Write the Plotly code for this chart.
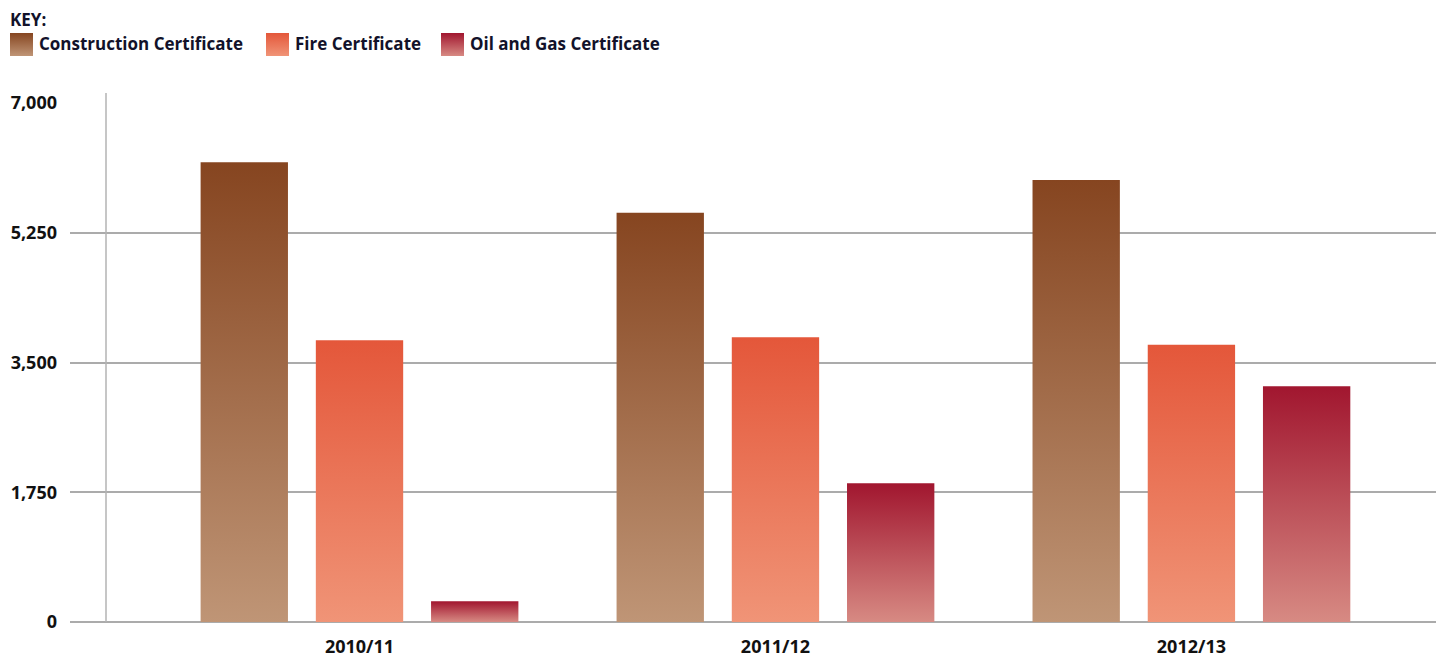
import plotly.graph_objects as go

# ---- data ----
years = ["2010/11", "2011/12", "2012/13"]
series_names = ["Construction Certificate", "Fire Certificate", "Oil and Gas Certificate"]
construction = [6200, 5520, 5960]
fire = [3800, 3840, 3740]
oil_gas = [280, 1870, 3180]
y_ticks = [0, 1750, 3500, 5250, 7000]

# ---- styling ----
W, H = 1436, 657
FONT = "Open Sans"
TEXT = "#111111"
GRID = "#ababab"
# (top colour, bottom colour) of each series' vertical gradient
gradients = [
    ("#864520", "#bf9576"),
    ("#e4573a", "#f09477"),
    ("#a1162f", "#d78a83"),
]
bar_width = 0.21
bar_offsets = [-0.277, 0.0, 0.277]

fig = go.Figure()

# bars: one filled polygon per value so each gets its own gradient
for s, values in enumerate([construction, fire, oil_gas]):
    top_c, bot_c = gradients[s]
    for i, v in enumerate(values):
        x0 = i + bar_offsets[s] - bar_width / 2
        x1 = x0 + bar_width
        fig.add_trace(go.Scatter(
            x=[x0, x1, x1, x0, x0], y=[0, 0, v, v, 0],
            mode="none",
            fill="toself",
            fillgradient=dict(type="vertical",
                              colorscale=[[0, bot_c], [1, top_c]],
                              start=0, stop=v),
            hoveron="fills", hoverinfo="text",
            text=f"{series_names[s]} {years[i]}: {v:,}",
            showlegend=False, xaxis="x", yaxis="y",
        ))

# key swatches on a pixel-space overlay axis
key_x = [10, 266, 441]
sw_w, sw_top, sw_bot = 23, 33, 56
for s, name in enumerate(series_names):
    top_c, bot_c = gradients[s]
    x0 = key_x[s]
    x1 = x0 + sw_w
    fig.add_trace(go.Scatter(
        x=[x0, x1, x1, x0, x0], y=[sw_bot, sw_bot, sw_top, sw_top, sw_bot],
        mode="none",
        fill="toself",
        fillgradient=dict(type="vertical",
                          colorscale=[[0, bot_c], [1, top_c]],
                          start=sw_bot, stop=sw_top),
        hoverinfo="skip", showlegend=False, xaxis="x2", yaxis="y2",
    ))
    fig.add_annotation(x=x1 + 4, y=(sw_top + sw_bot) / 2 - 1, xref="x2", yref="y2",
                       text=name, showarrow=False, xanchor="left", yanchor="middle",
                       font=dict(family=FONT, size=17, color="#12122a", weight=700))

fig.add_annotation(x=8, y=19, xref="x2", yref="y2", text="KEY:", showarrow=False,
                   xanchor="left", yanchor="middle",
                   font=dict(family=FONT, size=17, color="#12122a", weight=700))

# vertical axis rule
fig.add_shape(type="line", x0=106, x1=106, y0=93, y1=622, xref="x2", yref="y2",
              line=dict(color="#b3b3b3", width=1.5), layer="above")

fig.update_layout(
    width=W, height=H,
    margin=dict(l=0, r=0, t=0, b=0, autoexpand=False),
    paper_bgcolor="white", plot_bgcolor="rgba(0,0,0,0)",
    showlegend=False,
    xaxis=dict(domain=[70 / W, 1], range=[-0.696, 2.588],
               tickvals=[0, 1, 2], ticktext=years, automargin=False,
               showgrid=False, zeroline=False, showline=False, ticks="",
               ticklabelstandoff=12, fixedrange=True,
               tickfont=dict(family=FONT, size=18, color=TEXT, weight=700)),
    yaxis=dict(domain=[(H - 622) / H, (H - 103) / H], range=[0, 7000],
               tickvals=y_ticks, tickformat=",", automargin=False,
               showgrid=True, gridcolor=GRID, gridwidth=1.5,
               zeroline=True, zerolinecolor=GRID, zerolinewidth=2,
               showline=False, ticks="", ticklabelstandoff=12, fixedrange=True,
               tickfont=dict(family=FONT, size=18, color=TEXT, weight=700)),
    xaxis2=dict(domain=[0, 1], range=[0, W], visible=False, fixedrange=True,
                anchor="y2", automargin=False),
    yaxis2=dict(domain=[0, 1], range=[H, 0], visible=False, fixedrange=True,
                anchor="x2", automargin=False),
)

fig.write_html("out.html", config={"displayModeBar": False})
